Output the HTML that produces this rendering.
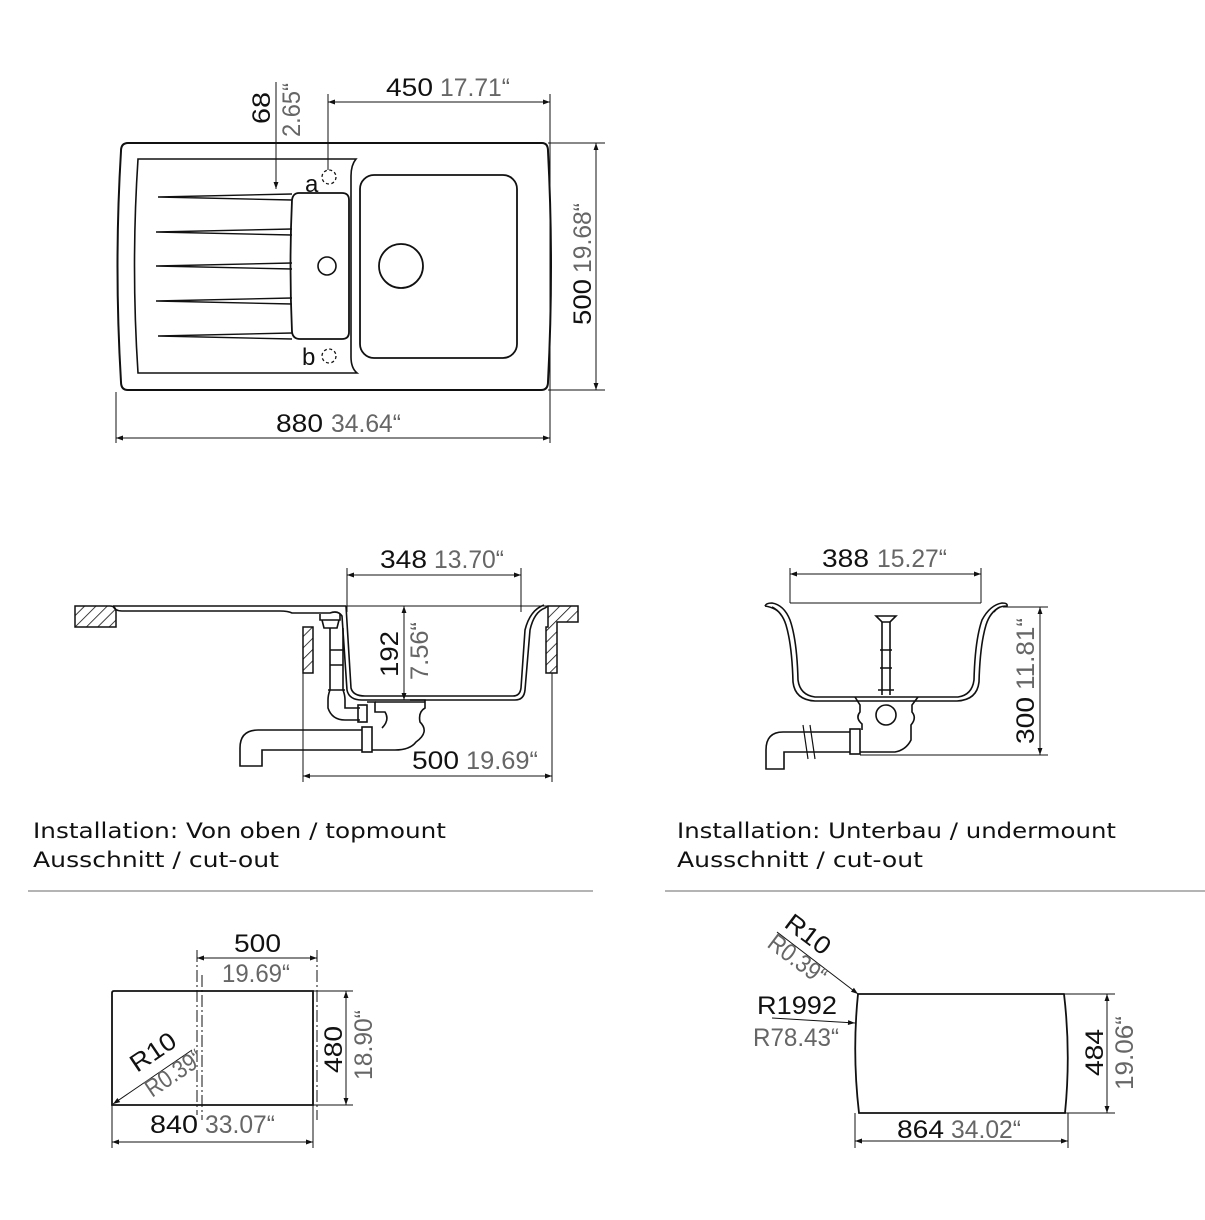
<!DOCTYPE html>
<html><head><meta charset="utf-8"><style>
html,body{margin:0;padding:0;background:#fff}
svg{display:block}
.d{font-family:"Liberation Sans",Arial,sans-serif;font-size:25px;fill:#111}
.g{font-family:"Liberation Sans",Arial,sans-serif;font-size:25px;fill:#666}
.t{font-family:"DejaVu Sans","Liberation Sans",sans-serif;font-size:21px;fill:#111}
</style></head><body>
<svg width="1205" height="1220" viewBox="0 0 1205 1220" xmlns="http://www.w3.org/2000/svg">
<defs>
<marker id="a" viewBox="0 0 10 10" refX="10" refY="5" markerWidth="9" markerHeight="7" orient="auto-start-reverse" markerUnits="userSpaceOnUse"><path d="M0,1.5 L10,5 L0,8.5Z" fill="#111"/></marker>
<pattern id="h" width="8" height="8" patternUnits="userSpaceOnUse" patternTransform="rotate(45)"><line x1="0" y1="0" x2="0" y2="8" stroke="#111" stroke-width="1.6"/></pattern>
</defs>
<g fill="none" stroke="#111" stroke-width="2">
<!-- TOP VIEW -->
<path d="M128,143 L542,143 Q548,143 548,151 Q554,266 548,382 Q548,390 541,390 L128,390 Q121,390 121,382 Q114,266 121,151 Q121,143 128,143Z"/>
<path d="M138,159 L356,159 Q351,165 351,176 L351,357 Q351,368 357,373 L138,373 Q131,266 138,159Z" stroke-width="1.6"/>
<g stroke-width="1.4">
<path d="M158,197 L292,194 M158,197 L292,200"/>
<path d="M156,232 L292,229 M156,232 L292,235"/>
<path d="M156,266 L292,263 M156,266 L292,269"/>
<path d="M156,301 L292,298 M156,301 L292,304"/>
<path d="M158,336 L292,333 M158,336 L292,339"/>
</g>
<path d="M299,193 L342,193 Q349,193 349,200 L349,332 Q349,339 342,339 L300,339 Q293,339 292,332 Q289,266 292,200 Q293,193 299,193Z" stroke-width="1.8"/>
<circle cx="327" cy="266" r="9" stroke-width="1.6"/>
<rect x="360" y="175" width="157" height="183" rx="14" stroke-width="1.8"/>
<circle cx="401" cy="266" r="22" stroke-width="1.8"/>
<circle cx="329" cy="177" r="7" stroke-width="1.3" stroke-dasharray="3,2.5"/>
<circle cx="329" cy="356" r="7" stroke-width="1.3" stroke-dasharray="3,2.5"/>
</g>
<g stroke="#111" stroke-width="1" fill="none">
<line x1="328" y1="94" x2="328" y2="170"/>
<line x1="550" y1="94" x2="550" y2="443"/>
<line x1="328" y1="102" x2="550" y2="102" marker-start="url(#a)" marker-end="url(#a)"/>
<line x1="276" y1="82" x2="276" y2="189" marker-end="url(#a)"/>
<line x1="548" y1="143" x2="605" y2="143"/>
<line x1="548" y1="390" x2="605" y2="390"/>
<line x1="596" y1="143" x2="596" y2="390" marker-start="url(#a)" marker-end="url(#a)"/>
<line x1="116" y1="392" x2="116" y2="443"/>
<line x1="116" y1="438" x2="550" y2="438" marker-start="url(#a)" marker-end="url(#a)"/>
</g>
<text class="d" x="386" y="96" textLength="47" lengthAdjust="spacingAndGlyphs">450</text>
<text class="g" x="440" y="96" textLength="70" lengthAdjust="spacingAndGlyphs">17.71“</text>
<text class="d" x="276" y="432" textLength="47" lengthAdjust="spacingAndGlyphs">880</text>
<text class="g" x="331" y="432" textLength="70" lengthAdjust="spacingAndGlyphs">34.64“</text>
<text class="d" transform="translate(270,124) rotate(-90)" textLength="32" lengthAdjust="spacingAndGlyphs">68</text>
<text class="g" transform="translate(300,137) rotate(-90)" textLength="54" lengthAdjust="spacingAndGlyphs">2.65“</text>
<text class="d" transform="translate(591,325) rotate(-90)" textLength="46" lengthAdjust="spacingAndGlyphs">500</text>
<text class="g" transform="translate(591,273) rotate(-90)" textLength="70" lengthAdjust="spacingAndGlyphs">19.68“</text>
<text class="d" x="305" y="192" style="font-size:24px">a</text>
<text class="d" x="302" y="365" style="font-size:24px">b</text>

<!-- SECTION 1 -->
<g stroke="#111" stroke-width="1.5" fill="url(#h)">
<path d="M75,606 L110,606 Q116,606 116,612 L116,627 L75,627Z"/>
<rect x="303" y="627" width="10" height="46"/>
<path d="M548,606 L578,606 L578,622 L557,622 L557,673 L546,673 L546,627 L548,627Z"/>
</g>
<g stroke="#111" stroke-width="1.6" fill="none">
<path d="M113,606 L346,606"/>
<path d="M113,606 Q115,611 122,611 L280,611 Q288,611 292,613 L330,613 Q338,610 342,616 L347,690 Q349,700 362,700 L515,700 Q524,700 525,690 L530,630 Q534,612 545,608 L548,606"/>
<path d="M346,606 L351,688 Q353,696 365,696 L513,696 Q520,696 521,688 L525,630 Q530,610 544,605"/>
<path d="M320,614 L320,620 L340,620 L340,614 M322,620 L324,628 L337,628 L339,620"/>
<path d="M330,628 L330,690 Q328,695 328,700 L328,708 Q332,720 345,720 L360,720 M343,628 L343,690 Q345,695 345,700 L345,708 L360,708"/>
<path d="M330,650 L343,650 M330,665 L343,665 M328,690 L345,690"/>
<rect x="358" y="705" width="9" height="17"/>
<path d="M367,702 L375,702 L375,712 L385,712 Q390,720 382,728 M410,700 L425,700 L425,708 Q418,712 420,722 Q430,732 416,742 Q410,750 395,750 L372,750"/>
<path d="M375,702 L425,702"/>
<rect x="362" y="727" width="10" height="25"/>
<path d="M362,730 L258,730 Q240,730 240,748 L240,766 L262,766 L262,750 L362,750"/>
</g>
<g stroke="#111" stroke-width="1" fill="none">
<line x1="347" y1="568" x2="347" y2="612"/>
<line x1="521" y1="568" x2="521" y2="612"/>
<line x1="347" y1="575" x2="521" y2="575" marker-start="url(#a)" marker-end="url(#a)"/>
<line x1="346" y1="606" x2="548" y2="606"/>
<line x1="404" y1="606" x2="404" y2="700" marker-start="url(#a)" marker-end="url(#a)"/>
<line x1="303" y1="673" x2="303" y2="782"/>
<line x1="552" y1="673" x2="552" y2="782"/>
<line x1="303" y1="776" x2="552" y2="776" marker-start="url(#a)" marker-end="url(#a)"/>
</g>
<text class="d" x="380" y="568" textLength="47" lengthAdjust="spacingAndGlyphs">348</text>
<text class="g" x="434" y="568" textLength="70" lengthAdjust="spacingAndGlyphs">13.70“</text>
<text class="d" transform="translate(398,677) rotate(-90)" textLength="46" lengthAdjust="spacingAndGlyphs">192</text>
<text class="g" transform="translate(428,680) rotate(-90)" textLength="58" lengthAdjust="spacingAndGlyphs">7.56“</text>
<text class="d" x="412" y="769" textLength="47" lengthAdjust="spacingAndGlyphs">500</text>
<text class="g" x="466" y="769" textLength="72" lengthAdjust="spacingAndGlyphs">19.69“</text>

<!-- SECTION 2 -->
<g stroke="#111" stroke-width="1.6" fill="none">
<path d="M765,606 Q766,603 772,603 Q784,605 790,620 Q797,640 798,680 Q800,695 815,697 L958,697 Q972,695 974,680 Q975,640 982,620 Q990,605 1002,603 Q1008,603 1007,606 Q998,606 994,612"/>
<path d="M765,606 Q777,608 781,615 M772,607 Q782,612 786,625 Q792,645 793,682 Q795,700 815,701 L957,701 Q977,700 979,682 Q980,645 986,625 Q990,612 1000,607"/>
<path d="M876,616 L896,616 L890,622 L882,622Z"/>
<path d="M882,622 L882,695 M890,622 L890,695 M880,650 L892,650 M880,668 L892,668 M878,690 L894,690"/>
<path d="M855,697 L860,705 L860,712 Q855,718 862,724 L862,730 M918,697 L912,705 L912,712 Q917,718 911,725 L911,740 Q906,750 895,752 L860,752"/>
<circle cx="886" cy="715" r="10"/>
<rect x="850" y="729" width="10" height="25"/>
<path d="M850,732 L783,732 Q766,732 766,750 L766,769 L784,769 L784,752 L850,752"/>
<path d="M803,725 L808,759 M810,725 L815,759" stroke-width="1.2"/>
</g>
<g stroke="#111" stroke-width="1" fill="none">
<line x1="790" y1="568" x2="790" y2="603"/>
<line x1="981" y1="568" x2="981" y2="603"/>
<line x1="790" y1="574" x2="981" y2="574" marker-start="url(#a)" marker-end="url(#a)"/>
<line x1="790" y1="603" x2="981" y2="603"/>
<line x1="1003" y1="607" x2="1048" y2="607"/>
<line x1="860" y1="755" x2="1048" y2="755"/>
<line x1="1040" y1="607" x2="1040" y2="755" marker-start="url(#a)" marker-end="url(#a)"/>
</g>
<text class="d" x="822" y="567" textLength="47" lengthAdjust="spacingAndGlyphs">388</text>
<text class="g" x="877" y="567" textLength="70" lengthAdjust="spacingAndGlyphs">15.27“</text>
<text class="d" transform="translate(1034,744) rotate(-90)" textLength="47" lengthAdjust="spacingAndGlyphs">300</text>
<text class="g" transform="translate(1034,690) rotate(-90)" textLength="72" lengthAdjust="spacingAndGlyphs">11.81“</text>

<!-- LABELS -->
<text class="t" x="33" y="838" textLength="413" lengthAdjust="spacingAndGlyphs">Installation: Von oben / topmount</text>
<text class="t" x="33" y="867" textLength="246" lengthAdjust="spacingAndGlyphs">Ausschnitt / cut-out</text>
<text class="t" x="677" y="838" textLength="439" lengthAdjust="spacingAndGlyphs">Installation: Unterbau / undermount</text>
<text class="t" x="677" y="867" textLength="246" lengthAdjust="spacingAndGlyphs">Ausschnitt / cut-out</text>
<line x1="28" y1="891" x2="593" y2="891" stroke="#888" stroke-width="1.2"/>
<line x1="665" y1="891" x2="1205" y2="891" stroke="#888" stroke-width="1.2"/>

<!-- CUT-OUT 1 -->
<path d="M114,991 L313,991 L313,1105 L112,1105 L112,993 Q112,991 114,991Z" fill="none" stroke="#111" stroke-width="1.8"/>
<g stroke="#111" stroke-width="1" fill="none">
<line x1="197" y1="950" x2="197" y2="1115" stroke-dasharray="12,3,2,3"/>
<line x1="202" y1="975" x2="202" y2="1120" stroke-dasharray="12,3,2,3"/>
<line x1="317" y1="950" x2="317" y2="1120" stroke-dasharray="12,3,2,3"/>
<line x1="197" y1="958" x2="317" y2="958" marker-start="url(#a)" marker-end="url(#a)"/>
<line x1="313" y1="991" x2="353" y2="991"/>
<line x1="313" y1="1105" x2="353" y2="1105"/>
<line x1="346" y1="991" x2="346" y2="1105" marker-start="url(#a)" marker-end="url(#a)"/>
<line x1="112" y1="1105" x2="112" y2="1148"/>
<line x1="313" y1="1105" x2="313" y2="1148"/>
<line x1="112" y1="1142" x2="313" y2="1142" marker-start="url(#a)" marker-end="url(#a)"/>
<line x1="192" y1="1050" x2="113" y2="1104" marker-end="url(#a)"/>
</g>
<text class="d" x="234" y="952" textLength="47" lengthAdjust="spacingAndGlyphs">500</text>
<text class="g" x="222" y="982" textLength="68" lengthAdjust="spacingAndGlyphs">19.69“</text>
<text class="d" transform="translate(342,1073) rotate(-90)" textLength="47" lengthAdjust="spacingAndGlyphs">480</text>
<text class="g" transform="translate(372,1080) rotate(-90)" textLength="70" lengthAdjust="spacingAndGlyphs">18.90“</text>
<text class="d" x="150" y="1133" textLength="48" lengthAdjust="spacingAndGlyphs">840</text>
<text class="g" x="205" y="1133" textLength="70" lengthAdjust="spacingAndGlyphs">33.07“</text>
<text class="d" transform="translate(137,1073) rotate(-34)" textLength="50" lengthAdjust="spacingAndGlyphs">R10</text>
<text class="g" transform="translate(152,1098) rotate(-34)" textLength="64" lengthAdjust="spacingAndGlyphs">R0.39“</text>

<!-- CUT-OUT 2 -->
<path d="M858,994 L1064,994 Q1071,1053 1065,1113 L859,1113 Q852,1053 858,994Z" fill="none" stroke="#111" stroke-width="1.8"/>
<g stroke="#111" stroke-width="1" fill="none">
<line x1="1065" y1="994" x2="1115" y2="994"/>
<line x1="1065" y1="1113" x2="1115" y2="1113"/>
<line x1="1107" y1="994" x2="1107" y2="1113" marker-start="url(#a)" marker-end="url(#a)"/>
<line x1="855" y1="1113" x2="855" y2="1148"/>
<line x1="1068" y1="1113" x2="1068" y2="1148"/>
<line x1="855" y1="1141" x2="1068" y2="1141" marker-start="url(#a)" marker-end="url(#a)"/>
<line x1="777" y1="932" x2="858" y2="994" marker-end="url(#a)"/>
<line x1="772" y1="1018" x2="855" y2="1023" marker-end="url(#a)"/>
</g>
<text class="d" transform="translate(783,926) rotate(37)" textLength="50" lengthAdjust="spacingAndGlyphs">R10</text>
<text class="g" transform="translate(766,946) rotate(37)" textLength="66" lengthAdjust="spacingAndGlyphs">R0.39“</text>
<text class="d" x="757" y="1014" textLength="80" lengthAdjust="spacingAndGlyphs">R1992</text>
<text class="g" x="753" y="1046" textLength="86" lengthAdjust="spacingAndGlyphs">R78.43“</text>
<text class="d" transform="translate(1103,1076) rotate(-90)" textLength="47" lengthAdjust="spacingAndGlyphs">484</text>
<text class="g" transform="translate(1133,1090) rotate(-90)" textLength="74" lengthAdjust="spacingAndGlyphs">19.06“</text>
<text class="d" x="897" y="1138" textLength="47" lengthAdjust="spacingAndGlyphs">864</text>
<text class="g" x="951" y="1138" textLength="70" lengthAdjust="spacingAndGlyphs">34.02“</text>
</svg>
</body></html>
